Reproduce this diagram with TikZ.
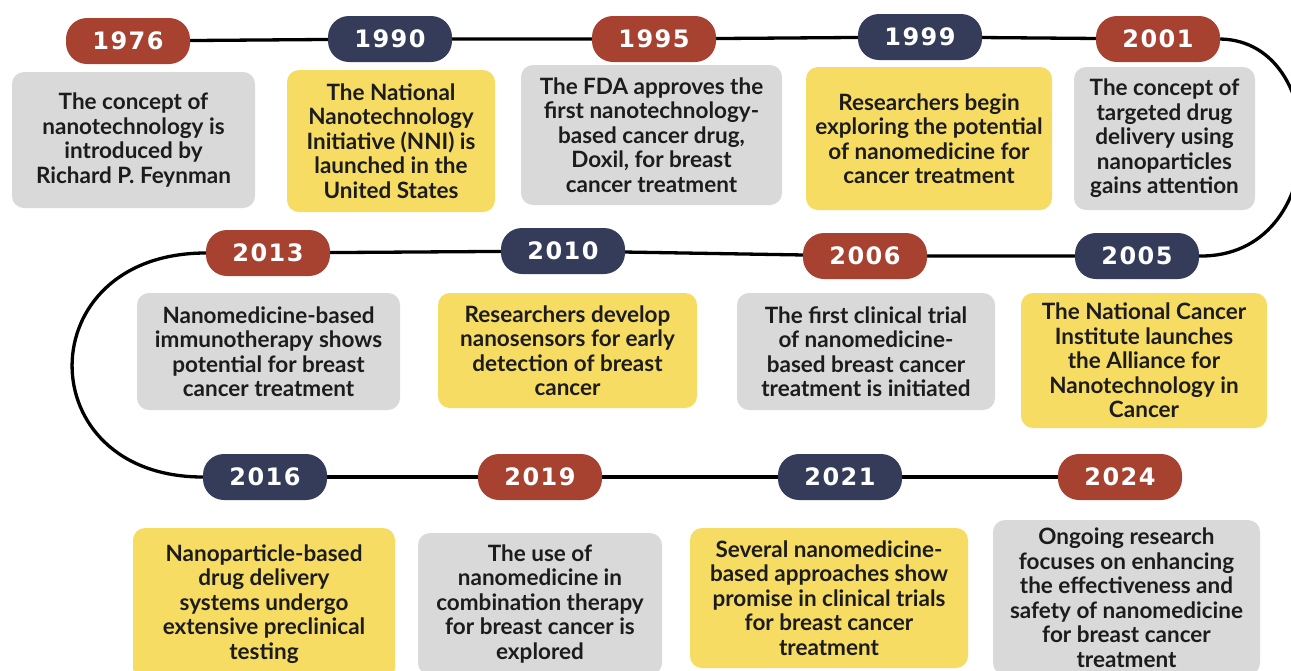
\documentclass[tikz,border=0pt]{standalone}
\usepackage{fontspec}
\setmainfont{Lato}
\newfontfamily\yearfont{DejaVu Sans}[LetterSpace=6]
\usetikzlibrary{backgrounds}
\usepackage{xcolor}
\definecolor{BrickRed}{RGB}{168,66,48}
\definecolor{Navy}{RGB}{52,60,90}
\definecolor{Sand}{RGB}{246,220,99}
\definecolor{Silver}{RGB}{217,217,217}
\definecolor{Ink}{RGB}{28,28,28}

\begin{document}
\begin{tikzpicture}[x=1pt, y=-1pt,
          year/.style={rectangle, rounded corners=21pt, minimum width=124pt, minimum height=46pt, text=white, font=\yearfont\bfseries\fontsize{24}{24}\selectfont},
          redyear/.style={year, fill=BrickRed},
          blueyear/.style={year, fill=Navy},
          event/.style={rectangle, rounded corners=12pt, align=center, inner sep=0pt, text=Ink, font=\bfseries\fontsize{22.5}{24.5}\selectfont},
          greybox/.style={event, fill=Silver},
          yellowbox/.style={event, fill=Sand},
          line/.style={black, line width=3.3pt}
        ]
          \clip (0,0) rectangle (1291,670);

          % first row
          \node (y1) [redyear] at (128,41) {1976};
          \node (e1) [greybox, minimum width=243pt, minimum height=136pt] at (133.5,140) {The concept of\\nanotechnology is\\introduced by\\Richard P. Feynman};

          \node (y2) [blueyear] at (390,39) {1990};
          \node (e2) [yellowbox, minimum width=208pt, minimum height=142pt] at (391,141) {The National\\Nanotechnology\\Initiative (NNI) is\\launched in the\\United States};

          \node (y3) [redyear] at (654,39) {1995};
          \node (e3) [greybox, minimum width=261pt, minimum height=140pt] at (651.5,135) {The FDA approves the\\first nanotechnology-\\based cancer drug,\\Doxil, for breast\\cancer treatment};

          \node (y4) [blueyear] at (920,37) {1999};
          \node (e4) [yellowbox, minimum width=246pt, minimum height=143pt] at (929,138.5) {Researchers begin\\exploring the potential\\of nanomedicine for\\cancer treatment};

          \node (y5) [redyear] at (1158,39) {2001};
          \node (e5) [greybox, minimum width=181pt, minimum height=143pt] at (1164.5,138.5) {The concept of\\targeted drug\\delivery using\\nanoparticles\\gains attention};

          % second row
          \node (y6) [blueyear] at (1137,256) {2005};
          \node (e6) [yellowbox, minimum width=246pt, minimum height=135pt] at (1144,360.5) {The National Cancer\\Institute launches\\the Alliance for\\Nanotechnology in\\Cancer};

          \node (y7) [redyear] at (865,256) {2006};
          \node (e7) [greybox, minimum width=258pt, minimum height=117pt] at (866,351.5) {The first clinical trial\\of nanomedicine-\\based breast cancer\\treatment is initiated};

          \node (y8) [blueyear] at (563,251) {2010};
          \node (e8) [yellowbox, minimum width=259pt, minimum height=115pt] at (567.5,350.5) {Researchers develop\\nanosensors for early\\detection of breast\\cancer};

          \node (y9) [redyear] at (268,253) {2013};
          \node (e9) [greybox, minimum width=263pt, minimum height=117pt] at (268.5,351.5) {Nanomedicine-based\\immunotherapy shows\\potential for breast\\cancer treatment};

          % third row
          \node (y10) [blueyear] at (265,477) {2016};
          \node (e10) [yellowbox, minimum width=262pt, minimum height=152pt] at (264,604) {Nanoparticle-based\\drug delivery\\systems undergo\\extensive preclinical\\testing};

          \node (y11) [redyear] at (540,477) {2019};
          \node (e11) [greybox, minimum width=244pt, minimum height=142pt] at (540,604) {The use of\\nanomedicine in\\combination therapy\\for breast cancer is\\explored};

          \node (y12) [blueyear] at (840,477) {2021};
          \node (e12) [yellowbox, minimum width=278pt, minimum height=140pt] at (829,598) {Several nanomedicine-\\based approaches show\\promise in clinical trials\\for breast cancer\\treatment};

          \node (y13) [redyear] at (1120,477) {2024};
          \node (e13) [greybox, minimum width=267pt, minimum height=155pt] at (1126.5,597.5) {Ongoing research\\focuses on enhancing\\the effectiveness and\\safety of nanomedicine\\for breast cancer\\treatment};

          \begin{scope}[on background layer]
            \fill[white] (0,0) rectangle (1291,670);
            \draw[line] (y1) -- (y2) -- (y3) -- (y4) -- (y5);
            \draw[line] (y5.east) .. controls (1332,41) and (1332,258) .. (y6.east);
            \draw[line] (y6) -- (y7) -- (y8) -- (y9);
            \draw[line] (y9.west) .. controls (28,253) and (28,477) .. (y10.west);
            \draw[line] (y10) -- (y11) -- (y12) -- (y13);
          \end{scope}
        \end{tikzpicture}
\end{document}
